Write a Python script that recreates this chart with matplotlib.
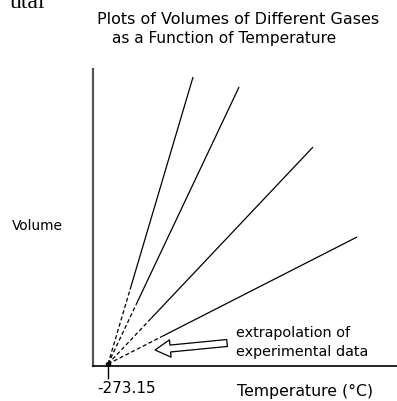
import numpy as np
import matplotlib
matplotlib.use('Agg')
import matplotlib.pyplot as plt
from matplotlib.transforms import ScaledTranslation

# absolute zero, where every gas line should meet
t_zero = -273.15

# measured range of each gas (deg C) and volume at the hot end
t_meas_start = [-207, -189, -144, -110]
t_meas_end = [-18, 120, 342, 474]
v_meas_end = [287, 277, 217, 127]

xtick_vals = [t_zero]
xtick_text = ['-273.15']

W, H = 397, 401
fig = plt.figure(figsize=(W / 100, H / 100), dpi=100)
ax = fig.add_axes([93 / W, (H - 366) / H, (W - 93) / W, (366 - 69) / H])

for t0, t1, v1 in zip(t_meas_start, t_meas_end, v_meas_end):
    k = v1 / (t1 - t_zero)
    # solid part = experimental data
    ts = np.array([t0, t1])
    ax.plot(ts, k * (ts - t_zero), color='black', lw=0.9, solid_capstyle='butt')
    # dashed part = extrapolation down to absolute zero
    te = np.array([t_zero, t0])
    ax.plot(te, k * (te - t_zero), color='black', lw=0.9, ls=(0, (3.2, 2.0)))

ax.plot([t_zero], [0], 'o', color='black', ms=3)

ax.set_xlim(t_zero - 15 * 3, t_zero - 15 * 3 + 304 * 3)
ax.set_ylim(-2, 295)

for s in ['top', 'right']:
    ax.spines[s].set_visible(False)
ax.spines['left'].set_color('#555555')
ax.spines['left'].set_linewidth(1.6)
ax.spines['bottom'].set_color('black')
ax.spines['bottom'].set_linewidth(1.2)

ax.set_yticks([])
ax.set_xticks(xtick_vals)
ax.set_xticklabels(xtick_text, fontsize=11)
ax.tick_params(axis='x', direction='out', length=9, width=1, color='black', pad=2)
for lab in ax.get_xticklabels():
    lab.set_horizontalalignment('left')
    lab.set_transform(lab.get_transform() + ScaledTranslation(-11 / 100, 0, fig.dpi_scale_trans))

# hollow arrow pointing at the dashed section
ax.annotate('', xy=(-132, 14), xytext=(84, 21),
            arrowprops=dict(arrowstyle='simple,head_length=1.1,head_width=1.25,tail_width=0.5',
                            fc='white', ec='black', lw=0.9, mutation_scale=10,
                            shrinkA=0, shrinkB=0))

fig.text(236 / W, 1 - 333 / H, 'extrapolation of', fontsize=10.4, va='center', ha='left')
fig.text(236 / W, 1 - 352 / H, 'experimental data', fontsize=10.4, va='center', ha='left')
fig.text(237 / W, 1 - 391 / H, 'Temperature (\u00b0C)', fontsize=11.3, va='center', ha='left')
fig.text(12 / W, 1 - 226 / H, 'Volume', fontsize=9.9, va='center', ha='left')

fig.text(97 / W, 1 - 20 / H, 'Plots of Volumes of Different Gases', fontsize=11.5, va='center', ha='left')
fig.text(112 / W, 1 - 38 / H, 'as a Function of Temperature', fontsize=11.1, va='center', ha='left')

fig.text(10 / W, 1 - 8 / H, 'utal', fontsize=17, family='Liberation Serif', va='baseline', ha='left')

fig.savefig('out.png', dpi=100)
